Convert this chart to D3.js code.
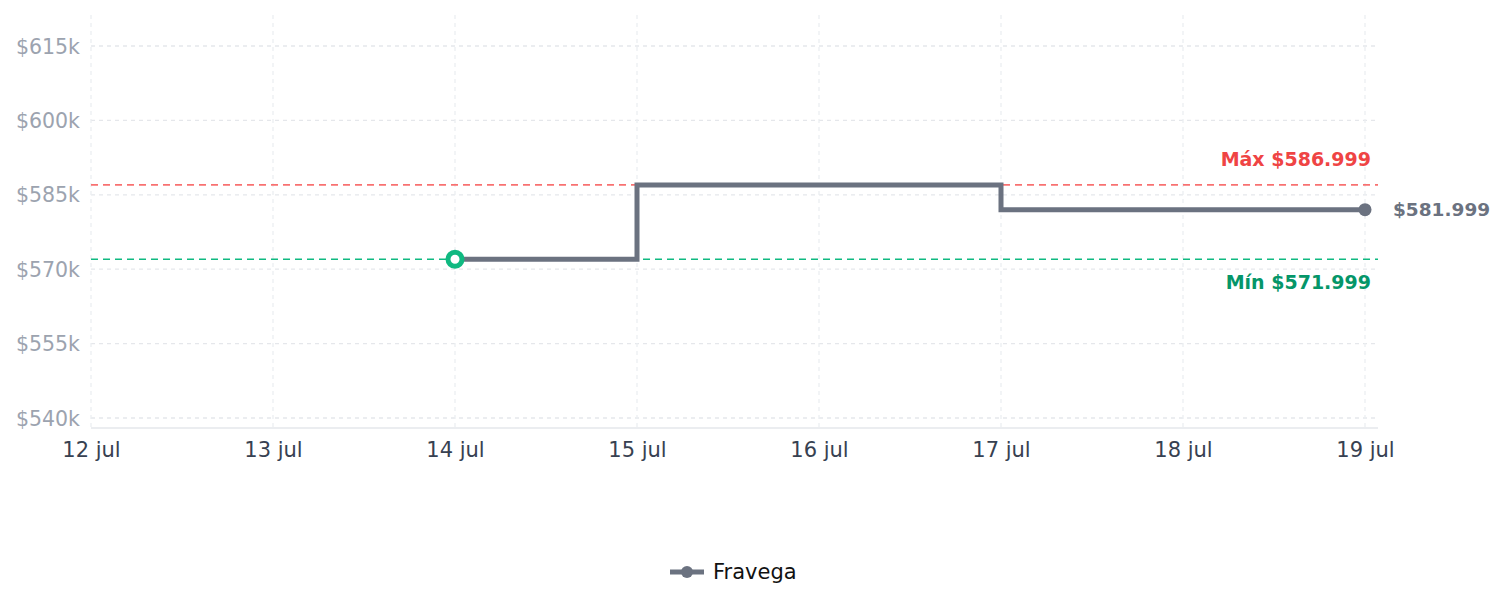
<!DOCTYPE html>
<html>
<head>
<meta charset="utf-8">
<script src="https://cdn.jsdelivr.net/npm/d3@7"></script>
<style>
  body { margin: 0; background: #fff; font-family: "DejaVu Sans", sans-serif; }
</style>
</head>
<body>
<div id="chart"></div>
<script>
// data
var dayLabels = ["12 jul", "13 jul", "14 jul", "15 jul", "16 jul", "17 jul", "18 jul", "19 jul"];
var dayDates = ["2024-07-12", "2024-07-13", "2024-07-14", "2024-07-15", "2024-07-16", "2024-07-17", "2024-07-18", "2024-07-19"];
var priceDates = ["2024-07-14", "2024-07-15", "2024-07-16", "2024-07-17", "2024-07-18", "2024-07-19"];
var fravegaPrices = [571999, 586999, 586999, 581999, 581999, 581999];
var yTicks = [540000, 555000, 570000, 585000, 600000, 615000];
var seriesName = "Fravega";

var parse = d3.timeParse("%Y-%m-%d");
var data = priceDates.map(function(d, i) { return {date: parse(d), price: fravegaPrices[i]}; });
var maxPrice = d3.max(fravegaPrices), minPrice = d3.min(fravegaPrices);
var lastPoint = data[data.length - 1];
var minPoint = data.find(function(d) { return d.price === minPrice; });

var fmtPrice = function(v) { return "$" + d3.format(",")(v).replace(/,/g, "."); };

var margin = {top: 15, right: 127, bottom: 179, left: 91};
var width = 1505 - margin.left - margin.right,
    height = 607 - margin.top - margin.bottom;

var svg = d3.select("#chart").append("svg")
    .attr("width", 1505).attr("height", 607)
    .append("g")
    .attr("transform", "translate(" + margin.left + "," + margin.top + ")");

var xScale = d3.scaleTime()
    .domain([parse(dayDates[0]), parse(dayDates[dayDates.length - 1])])
    .range([0, width - 13]);

var yScale = d3.scaleLinear()
    .domain([540000, 615000])
    .range([403, 31]);

// grid
svg.append("g").selectAll("line").data(yTicks).enter().append("line")
    .attr("x1", 0).attr("x2", width)
    .attr("y1", function(d) { return yScale(d); }).attr("y2", function(d) { return yScale(d); })
    .attr("stroke", "#e5e7eb").attr("stroke-dasharray", "4,4").attr("stroke-width", 1.3);

svg.append("g").selectAll("line").data(dayDates).enter().append("line")
    .attr("x1", function(d) { return xScale(parse(d)); }).attr("x2", function(d) { return xScale(parse(d)); })
    .attr("y1", 0).attr("y2", height)
    .attr("stroke", "#eceef1").attr("stroke-dasharray", "4,4").attr("stroke-width", 1.3);

// axes
var yAxis = d3.axisLeft(yScale).tickValues(yTicks).tickSize(0).tickPadding(11)
    .tickFormat(function(d) { return "$" + (d / 1000) + "k"; });
var yG = svg.append("g").call(yAxis);
yG.select(".domain").remove();
yG.selectAll("text").style("font-size", "20.5px").style("fill", "#9ca3af")
    .style("font-family", "DejaVu Sans, sans-serif").attr("dy", "0.35em");

var xAxis = d3.axisBottom(xScale).tickValues(dayDates.map(parse)).tickSize(0).tickPadding(14)
    .tickFormat(function(d, i) { return dayLabels[i]; });
var xG = svg.append("g").attr("transform", "translate(0," + height + ")").call(xAxis);
xG.select(".domain").attr("d", "M0,0H" + width).attr("stroke", "#e5e7eb").attr("stroke-width", 1.5);
xG.selectAll("text").style("font-size", "21px").style("fill", "#374151")
    .style("font-family", "DejaVu Sans, sans-serif");

// max / min reference lines
svg.append("line").attr("x1", 0).attr("x2", width)
    .attr("y1", yScale(maxPrice)).attr("y2", yScale(maxPrice))
    .attr("stroke", "#f87171").attr("stroke-width", 1.6).attr("stroke-dasharray", "7,5");
svg.append("line").attr("x1", 0).attr("x2", width)
    .attr("y1", yScale(minPrice)).attr("y2", yScale(minPrice))
    .attr("stroke", "#10b981").attr("stroke-width", 1.6).attr("stroke-dasharray", "7,5");

svg.append("text").attr("x", width - 7).attr("y", yScale(maxPrice) - 19)
    .attr("text-anchor", "end").style("font-size", "19px").style("font-weight", "bold")
    .style("fill", "#ef4444").text("Máx " + fmtPrice(maxPrice));
svg.append("text").attr("x", width - 7).attr("y", yScale(minPrice) + 30)
    .attr("text-anchor", "end").style("font-size", "19px").style("font-weight", "bold")
    .style("fill", "#059669").text("Mín " + fmtPrice(minPrice));

// price line
var line = d3.line().curve(d3.curveStepAfter)
    .x(function(d) { return xScale(d.date); })
    .y(function(d) { return yScale(d.price); });

svg.append("path").datum(data)
    .attr("d", line).attr("fill", "none")
    .attr("stroke", "#6b7280").attr("stroke-width", 5).attr("stroke-linejoin", "miter");

svg.append("circle").attr("cx", xScale(minPoint.date)).attr("cy", yScale(minPoint.price))
    .attr("r", 7).attr("fill", "#fff").attr("stroke", "#10b981").attr("stroke-width", 5);

svg.append("circle").attr("cx", xScale(lastPoint.date)).attr("cy", yScale(lastPoint.price))
    .attr("r", 6.5).attr("fill", "#6b7280");

svg.append("text").attr("x", xScale(lastPoint.date) + 28).attr("y", yScale(lastPoint.price))
    .attr("dy", "0.35em").style("font-size", "18.5px").style("font-weight", "bold")
    .style("fill", "#6b7280").text(fmtPrice(lastPoint.price));

// legend
var legend = d3.select("svg").append("g").attr("transform", "translate(670,572)");
legend.append("line").attr("x1", 0).attr("x2", 34).attr("y1", 0).attr("y2", 0)
    .attr("stroke", "#6b7280").attr("stroke-width", 5);
legend.append("circle").attr("cx", 17).attr("cy", 0).attr("r", 6).attr("fill", "#6b7280");
legend.append("text").attr("x", 43).attr("y", 0).attr("dy", "0.35em")
    .style("font-size", "21px").style("fill", "#111").text(seriesName);
</script>
</body>
</html>
